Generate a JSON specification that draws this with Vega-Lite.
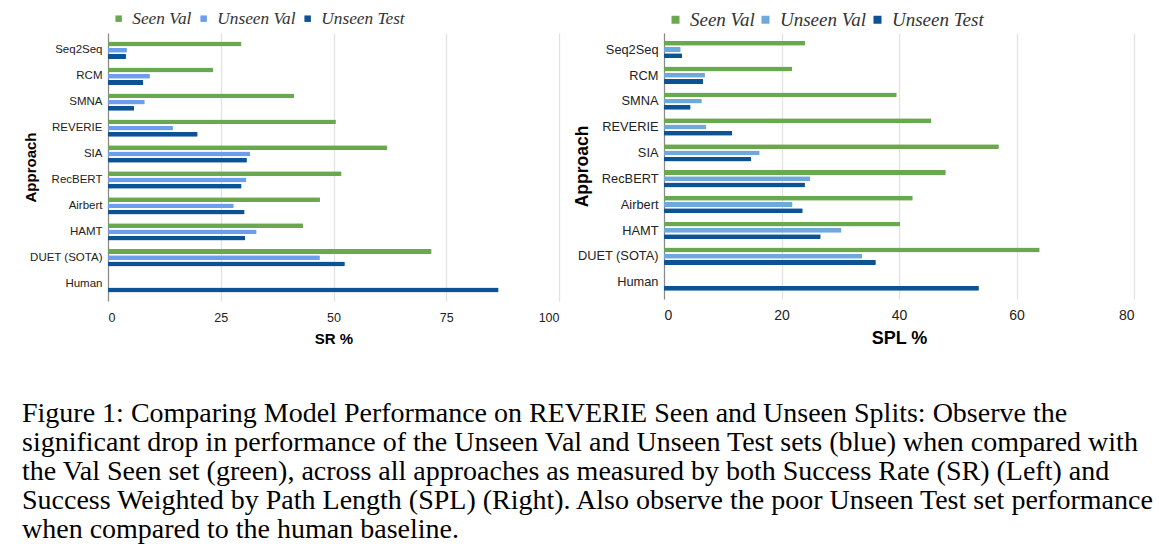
{
  "$schema": "https://vega.github.io/schema/vega-lite/v6.json",
  "background": "white",
  "padding": {"left": 22, "top": 10, "right": 5, "bottom": 2},
  "datasets": {
    "sr": [
      {"approach": "Seq2Seq", "split": "Seen Val", "value": 29.59},
      {"approach": "Seq2Seq", "split": "Unseen Val", "value": 4.20},
      {"approach": "Seq2Seq", "split": "Unseen Test", "value": 3.99},
      {"approach": "RCM", "split": "Seen Val", "value": 23.33},
      {"approach": "RCM", "split": "Unseen Val", "value": 9.29},
      {"approach": "RCM", "split": "Unseen Test", "value": 7.84},
      {"approach": "SMNA", "split": "Seen Val", "value": 41.25},
      {"approach": "SMNA", "split": "Unseen Val", "value": 8.15},
      {"approach": "SMNA", "split": "Unseen Test", "value": 5.80},
      {"approach": "REVERIE", "split": "Seen Val", "value": 50.53},
      {"approach": "REVERIE", "split": "Unseen Val", "value": 14.40},
      {"approach": "REVERIE", "split": "Unseen Test", "value": 19.88},
      {"approach": "SIA", "split": "Seen Val", "value": 61.91},
      {"approach": "SIA", "split": "Unseen Val", "value": 31.53},
      {"approach": "SIA", "split": "Unseen Test", "value": 30.80},
      {"approach": "RecBERT", "split": "Seen Val", "value": 51.79},
      {"approach": "RecBERT", "split": "Unseen Val", "value": 30.67},
      {"approach": "RecBERT", "split": "Unseen Test", "value": 29.61},
      {"approach": "Airbert", "split": "Seen Val", "value": 47.01},
      {"approach": "Airbert", "split": "Unseen Val", "value": 27.89},
      {"approach": "Airbert", "split": "Unseen Test", "value": 30.28},
      {"approach": "HAMT", "split": "Seen Val", "value": 43.29},
      {"approach": "HAMT", "split": "Unseen Val", "value": 32.95},
      {"approach": "HAMT", "split": "Unseen Test", "value": 30.40},
      {"approach": "DUET (SOTA)", "split": "Seen Val", "value": 71.75},
      {"approach": "DUET (SOTA)", "split": "Unseen Val", "value": 46.98},
      {"approach": "DUET (SOTA)", "split": "Unseen Test", "value": 52.51},
      {"approach": "Human", "split": "Unseen Test", "value": 86.6}
    ],
    "spl": [
      {"approach": "Seq2Seq", "split": "Seen Val", "value": 24.01},
      {"approach": "Seq2Seq", "split": "Unseen Val", "value": 2.84},
      {"approach": "Seq2Seq", "split": "Unseen Test", "value": 3.09},
      {"approach": "RCM", "split": "Seen Val", "value": 21.82},
      {"approach": "RCM", "split": "Unseen Val", "value": 6.97},
      {"approach": "RCM", "split": "Unseen Test", "value": 6.67},
      {"approach": "SMNA", "split": "Seen Val", "value": 39.61},
      {"approach": "SMNA", "split": "Unseen Val", "value": 6.44},
      {"approach": "SMNA", "split": "Unseen Test", "value": 4.53},
      {"approach": "REVERIE", "split": "Seen Val", "value": 45.50},
      {"approach": "REVERIE", "split": "Unseen Val", "value": 7.20},
      {"approach": "REVERIE", "split": "Unseen Test", "value": 11.61},
      {"approach": "SIA", "split": "Seen Val", "value": 57.00},
      {"approach": "SIA", "split": "Unseen Val", "value": 16.28},
      {"approach": "SIA", "split": "Unseen Test", "value": 14.85},
      {"approach": "RecBERT", "split": "Seen Val", "value": 47.96},
      {"approach": "RecBERT", "split": "Unseen Val", "value": 24.90},
      {"approach": "RecBERT", "split": "Unseen Test", "value": 23.99},
      {"approach": "Airbert", "split": "Seen Val", "value": 42.34},
      {"approach": "Airbert", "split": "Unseen Val", "value": 21.88},
      {"approach": "Airbert", "split": "Unseen Test", "value": 23.61},
      {"approach": "HAMT", "split": "Seen Val", "value": 40.19},
      {"approach": "HAMT", "split": "Unseen Val", "value": 30.20},
      {"approach": "HAMT", "split": "Unseen Test", "value": 26.67},
      {"approach": "DUET (SOTA)", "split": "Seen Val", "value": 63.94},
      {"approach": "DUET (SOTA)", "split": "Unseen Val", "value": 33.73},
      {"approach": "DUET (SOTA)", "split": "Unseen Test", "value": 36.06},
      {"approach": "Human", "split": "Unseen Test", "value": 53.6}
    ]
  },
  "title": {
    "text": [
      "Figure 1: Comparing Model Performance on REVERIE Seen and Unseen Splits: Observe the",
      "significant drop in performance of the Unseen Val and Unseen Test sets (blue) when compared with",
      "the Val Seen set (green), across all approaches as measured by both Success Rate (SR) (Left) and",
      "Success Weighted by Path Length (SPL) (Right). Also observe the poor Unseen Test set performance",
      "when compared to the human baseline."
    ],
    "orient": "bottom",
    "anchor": "start",
    "frame": "group",
    "dx": -86,
    "font": "Liberation Serif, Times New Roman, serif",
    "fontSize": 28,
    "fontWeight": "normal",
    "color": "#000000",
    "lineHeight": 29,
    "offset": 53
  },
  "bounds": "flush",
  "spacing": 105,
  "resolve": {"scale": {"color": "independent", "y": "independent", "x": "independent"}, "legend": {"color": "independent"}},
  "hconcat": [
    {
      "width": 451,
      "height": 268,
      "data": {"name": "sr"},
      "mark": {"type": "bar", "cornerRadius": 1},
      "encoding": {
        "y": {
          "field": "approach", "type": "nominal",
          "sort": ["Seq2Seq", "RCM", "SMNA", "REVERIE", "SIA", "RecBERT", "Airbert", "HAMT", "DUET (SOTA)", "Human"],
          "scale": {"paddingInner": 0.33, "paddingOuter": 0.33},
          "axis": {
            "title": "Approach", "titleFont": "Liberation Sans", "titleFontSize": 15, "titleFontWeight": "bold", "titleColor": "#000000",
            "titleAngle": -90, "titleX": -78, "titleY": 134, "titleAlign": "center", "titleBaseline": "middle",
            "labelFont": "Liberation Sans", "labelFontSize": 11.5, "labelColor": "#222222", "labelPadding": 6,
            "ticks": false, "domain": true, "domainColor": "#8a8a8a", "domainWidth": 1.2, "grid": false
          }
        },
        "x": {
          "field": "value", "type": "quantitative",
          "scale": {"domain": [0, 100], "nice": false},
          "axis": {
            "values": [0, 25, 50, 75, 100], "title": "SR %",
            "titleFont": "Liberation Sans", "titleFontSize": 15, "titleFontWeight": "bold", "titleColor": "#000000", "titlePadding": 8,
            "labelFont": "Liberation Sans", "labelFontSize": 12.5, "labelColor": "#222222", "labelPadding": 10,
            "ticks": false, "domain": false, "grid": true, "gridColor": "#e2e2e2", "gridWidth": 1.3
          }
        },
        "yOffset": {"field": "split", "type": "nominal", "sort": ["Seen Val", "Unseen Val", "Unseen Test"], "scale": {"domain": ["Seen Val", "Unseen Val", "Unseen Test"], "paddingInner": 0.22}},
        "color": {
          "field": "split", "type": "nominal",
          "scale": {"domain": ["Seen Val", "Unseen Val", "Unseen Test"], "range": ["#6aa84f", "#6d9eeb", "#0b5394"]},
          "legend": {
            "title": null, "orient": "none", "direction": "horizontal", "legendX": 2, "legendY": -23,
            "symbolType": "square", "symbolSize": 42, "symbolStrokeWidth": 0,
            "labelFont": "Liberation Serif, Times New Roman, serif", "labelFontStyle": "italic", "labelFontSize": 17.3, "labelColor": "#333333",
            "labelOffset": 5, "columnPadding": 3, "labelLimit": 200
          }
        }
      }
    },
    {
      "width": 470,
      "height": 266,
      "data": {"name": "spl"},
      "mark": {"type": "bar", "cornerRadius": 1},
      "encoding": {
        "y": {
          "field": "approach", "type": "nominal",
          "sort": ["Seq2Seq", "RCM", "SMNA", "REVERIE", "SIA", "RecBERT", "Airbert", "HAMT", "DUET (SOTA)", "Human"],
          "scale": {"paddingInner": 0.31, "paddingOuter": 0.3},
          "axis": {
            "title": "Approach", "titleFont": "Liberation Sans", "titleFontSize": 17.5, "titleFontWeight": "bold", "titleColor": "#000000",
            "titleAngle": -90, "titleX": -82, "titleY": 133, "titleAlign": "center", "titleBaseline": "middle",
            "labelFont": "Liberation Sans", "labelFontSize": 12.8, "labelColor": "#222222", "labelPadding": 6,
            "ticks": false, "domain": true, "domainColor": "#8a8a8a", "domainWidth": 1.2, "grid": false
          }
        },
        "x": {
          "field": "value", "type": "quantitative",
          "scale": {"domain": [0, 80], "nice": false},
          "axis": {
            "values": [0, 20, 40, 60, 80], "title": "SPL %",
            "titleFont": "Liberation Sans", "titleFontSize": 18, "titleFontWeight": "bold", "titleColor": "#000000", "titlePadding": 7,
            "labelFont": "Liberation Sans", "labelFontSize": 14, "labelColor": "#222222", "labelPadding": 9,
            "ticks": false, "domain": false, "grid": true, "gridColor": "#e2e2e2", "gridWidth": 1.3
          }
        },
        "yOffset": {"field": "split", "type": "nominal", "sort": ["Seen Val", "Unseen Val", "Unseen Test"], "scale": {"domain": ["Seen Val", "Unseen Val", "Unseen Test"], "paddingInner": 0.22}},
        "color": {
          "field": "split", "type": "nominal",
          "scale": {"domain": ["Seen Val", "Unseen Val", "Unseen Test"], "range": ["#6aa84f", "#6fa8dc", "#0b5394"]},
          "legend": {
            "title": null, "orient": "none", "direction": "horizontal", "legendX": 2, "legendY": -23,
            "symbolType": "square", "symbolSize": 64, "symbolStrokeWidth": 0,
            "labelFont": "Liberation Serif, Times New Roman, serif", "labelFontStyle": "italic", "labelFontSize": 19, "labelColor": "#333333",
            "labelOffset": 5, "columnPadding": 1, "labelLimit": 200
          }
        }
      }
    }
  ],
  "config": {
    "view": {"stroke": null},
    "axis": {"labelOverlap": false}
  }
}
